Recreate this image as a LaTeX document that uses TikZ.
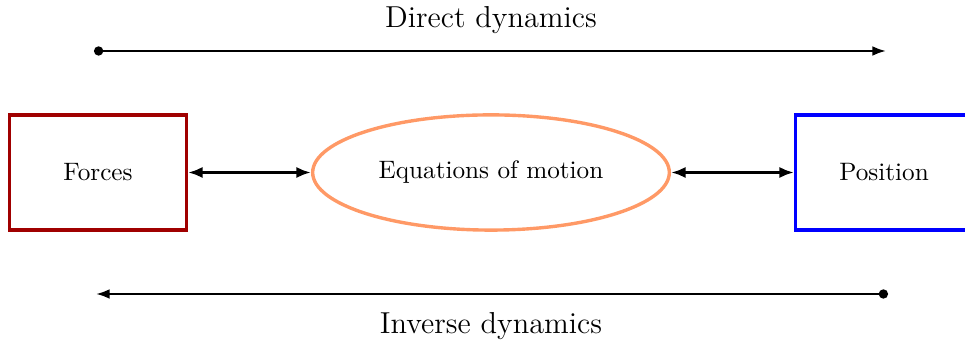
\documentclass[tikz,border=0pt]{standalone}
\usepackage{tikz}
\usetikzlibrary{shapes.geometric,arrows.meta,positioning}
\definecolor{forcered}{RGB}{160,0,0}
\definecolor{eomorange}{RGB}{255,153,102}
\tikzset{
  block/.style={draw, line width=1.4pt, minimum width=2.56cm, minimum height=1.67cm},
  link/.style={{Latex[length=6pt,width=4.6pt]}-{Latex[length=6pt,width=4.6pt]}, line width=1.3pt},
  flow/.style={{Circle[length=3.8pt]}-{Latex[length=5.6pt,width=4pt]}, line width=0.9pt},
}

\begin{document}
\begin{tikzpicture}[x=0.0145cm, y=0.0145cm, font=\fontsize{10.4}{12.5}\selectfont]
  \useasboundingbox (0,0) rectangle (965,347);

  \node[block, draw=forcered] (forces) at (98,174.5) {Forces};
  \node[ellipse, draw=eomorange, line width=1.4pt,
        minimum width=5.17cm, minimum height=1.67cm] (eom) at (491,174.5) {Equations of motion};
  \node[block, draw=blue] (position) at (884,174.5) {Position};

  \draw[link] (forces) -- (eom);
  \draw[link] (eom) -- (position);

  % direct dynamics
  \coordinate (dstart) at (94,296);
  \coordinate (dend) at (886,296);
  \draw[flow] (dstart) -- (dend);
  \node[font=\fontsize{12.5}{15}\selectfont] (direct) at (491,327) {Direct dynamics};

  % inverse dynamics
  \coordinate (istart) at (888,53);
  \coordinate (iend) at (96,53);
  \draw[flow] (istart) -- (iend);
  \node[font=\fontsize{12.5}{15}\selectfont] (inverse) at (491,21) {Inverse dynamics};

\end{tikzpicture}
\end{document}
